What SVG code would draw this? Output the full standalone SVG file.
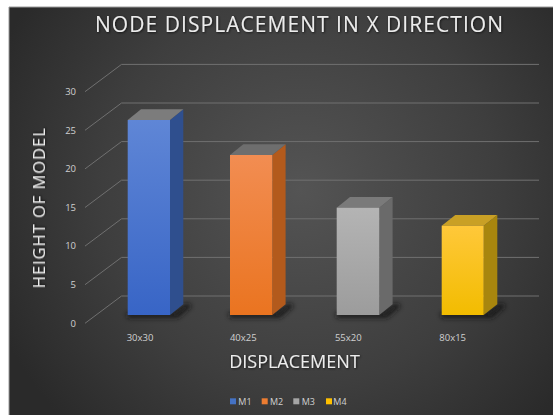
<svg xmlns="http://www.w3.org/2000/svg" width="553" height="415" viewBox="0 0 553 415">
<defs>
<radialGradient id="bg" cx="300" cy="190" r="330" gradientUnits="userSpaceOnUse">
<stop offset="0" stop-color="#545454"/>
<stop offset="0.6" stop-color="#3e3e3e"/>
<stop offset="1" stop-color="#2a2a2a"/>
</radialGradient>
<linearGradient id="gBlue" x1="0" y1="0" x2="0" y2="1"><stop offset="0" stop-color="#5f86d6"/><stop offset="1" stop-color="#3865c6"/></linearGradient>
<linearGradient id="gOrange" x1="0" y1="0" x2="0" y2="1"><stop offset="0" stop-color="#f28d52"/><stop offset="1" stop-color="#ea7420"/></linearGradient>
<linearGradient id="gGrey" x1="0" y1="0" x2="0" y2="1"><stop offset="0" stop-color="#b4b4b4"/><stop offset="1" stop-color="#9c9c9c"/></linearGradient>
<linearGradient id="gYellow" x1="0" y1="0" x2="0" y2="1"><stop offset="0" stop-color="#ffc83a"/><stop offset="1" stop-color="#f2bc00"/></linearGradient>
<filter id="sh" x="-30%" y="-100%" width="160%" height="300%"><feGaussianBlur stdDeviation="2.5"/></filter>
<filter id="ts" x="-10%" y="-30%" width="120%" height="160%"><feDropShadow dx="0.8" dy="0.8" stdDeviation="0.8" flood-color="#000" flood-opacity="0.7"/></filter>
</defs>
<style>
.grid{stroke:#707070;stroke-width:1;fill:none}
.tick{font-family:"Open Sans","Liberation Sans",sans-serif;font-size:9.5px;fill:#d0d0d0;text-anchor:end}
.cat{font-family:"Open Sans","Liberation Sans",sans-serif;font-size:9.5px;fill:#d0d0d0;text-anchor:middle}
.leg{font-family:"Open Sans","Liberation Sans",sans-serif;font-size:9px;fill:#d0d0d0}
.title{font-family:"Open Sans","Liberation Sans",sans-serif;fill:#ececec}
.shadow{fill:#151515;opacity:0.85}
</style>
<rect x="0" y="0" width="553" height="415" fill="#ffffff"/>
<rect x="9" y="7" width="544" height="408" fill="url(#bg)"/>
<line x1="9" y1="7" x2="553" y2="7" stroke="#9a9a9a" stroke-width="1"/>
<line x1="9" y1="7" x2="9" y2="415" stroke="#9a9a9a" stroke-width="1"/>

<text class="title" x="299" y="31.7" font-size="21" text-anchor="middle" textLength="408" lengthAdjust="spacing" filter="url(#ts)">NODE DISPLACEMENT IN X DIRECTION</text>

<g id="gridlines">
<path class="grid" d="M85,323.3 L121.5,296 L539,296"/>
<path class="grid" d="M85,284.7 L121.5,257.4 L539,257.4"/>
<path class="grid" d="M85,246.1 L121.5,218.8 L539,218.8"/>
<path class="grid" d="M85,207.5 L121.5,180.2 L539,180.2"/>
<path class="grid" d="M85,168.9 L121.5,141.6 L539,141.6"/>
<path class="grid" d="M85,130.3 L121.5,103 L539,103"/>
<path class="grid" d="M85,91.7 L121.5,64.4 L539,64.4"/>
</g>

<g id="y-axis">
<text class="tick" x="76" y="326.5">0</text>
<text class="tick" x="76" y="287.9">5</text>
<text class="tick" x="76" y="249.3">10</text>
<text class="tick" x="76" y="210.7">15</text>
<text class="tick" x="76" y="172.1">20</text>
<text class="tick" x="76" y="133.5">25</text>
<text class="tick" x="76" y="94.9">30</text>
<text class="title" font-size="16.5" text-anchor="middle" transform="translate(45,208.3) rotate(-90)" textLength="160" lengthAdjust="spacing" filter="url(#ts)">HEIGHT OF MODEL</text>
</g>

<g id="bar-m1">
<polygon class="shadow" filter="url(#sh)" points="126,313 172,313 187,303 192,306 178,318 128,318"/>
<polygon points="170,120 183.3,109.3 183.3,304.3 170,315" fill="#2f4f8e"/>
<polygon points="127.7,120 170,120 183.3,109.3 141,109.3" fill="#7c7c7c"/>
<rect x="127.7" y="120" width="42.3" height="195" fill="url(#gBlue)"/>
</g>
<g id="bar-m2">
<polygon class="shadow" filter="url(#sh)" points="228,313 274,313 289,303 294,306 280,318 230,318"/>
<polygon points="272.3,155 285.6,144.3 285.6,304.3 272.3,315" fill="#b35a1c"/>
<polygon points="230,155 272.3,155 285.6,144.3 243.3,144.3" fill="#6e6e6e"/>
<rect x="230" y="155" width="42.3" height="160" fill="url(#gOrange)"/>
</g>
<g id="bar-m3">
<polygon class="shadow" filter="url(#sh)" points="335,313 381,313 396,303 401,306 387,318 337,318"/>
<polygon points="379.3,207.7 392.6,197 392.6,304.3 379.3,315" fill="#6a6a6a"/>
<polygon points="336.7,207.7 379.3,207.7 392.6,197 350,197" fill="#7a7a7a"/>
<rect x="336.7" y="207.7" width="42.6" height="107.3" fill="url(#gGrey)"/>
</g>
<g id="bar-m4">
<polygon class="shadow" filter="url(#sh)" points="440,313 486,313 501,303 506,306 492,318 442,318"/>
<polygon points="483.7,225.7 497.3,215 497.3,304.3 483.7,315" fill="#a8860e"/>
<polygon points="441.7,225.7 483.7,225.7 497.3,215 455.3,215" fill="#c9a025"/>
<rect x="441.7" y="225.7" width="42" height="89.3" fill="url(#gYellow)"/>
</g>

<g id="x-axis">
<text class="cat" x="140" y="340.5">30x30</text>
<text class="cat" x="243.3" y="340.5">40x25</text>
<text class="cat" x="348.3" y="340.5">55x20</text>
<text class="cat" x="452.7" y="340.5">80x15</text>
<text class="title" x="294.5" y="367.7" font-size="18.7" text-anchor="middle" textLength="130.7" lengthAdjust="spacingAndGlyphs" filter="url(#ts)">DISPLACEMENT</text>
</g>

<g id="legend">
<rect x="230" y="398.3" width="6" height="6" fill="#4472c4"/>
<text class="leg" x="238.3" y="404.5">M1</text>
<rect x="261.7" y="398.3" width="6" height="6" fill="#ed7d31"/>
<text class="leg" x="270" y="404.5">M2</text>
<rect x="293.3" y="398.3" width="6" height="6" fill="#a5a5a5"/>
<text class="leg" x="301.7" y="404.5">M3</text>
<rect x="326" y="398.3" width="6" height="6" fill="#ffc000"/>
<text class="leg" x="333.3" y="404.5">M4</text>
</g>
</svg>
